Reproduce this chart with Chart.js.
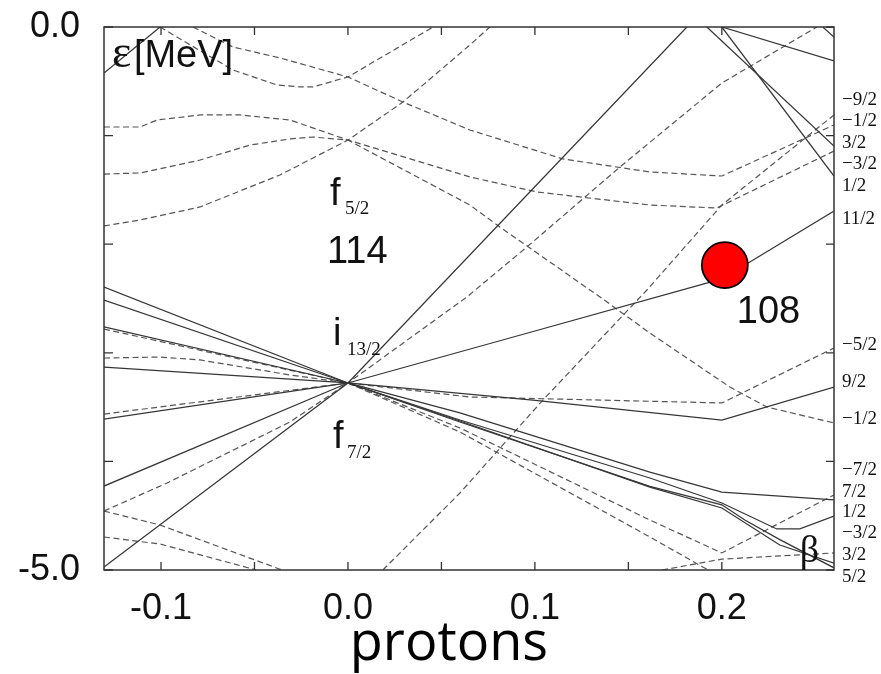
<!DOCTYPE html>
<html>
<head>
<meta charset="utf-8">
<script src="https://cdn.jsdelivr.net/npm/chart.js@4.4.1/dist/chart.umd.min.js"></script>
<style>
  html, body { margin: 0; padding: 0; background: #fff; }
  #box { width: 881px; height: 674px; }
</style>
</head>
<body>
<div id="box"><canvas id="nilsson"></canvas></div>
<script>
// Axis ticks (beta on x, energy in MeV on y)
const xTicks = [-0.1, -0.05, 0, 0.05, 0.1, 0.15, 0.2];
const xTickLabels = ['-0.1', '', '0.0', '', '0.1', '', '0.2'];
const yTicks = [-5, -4, -3, -2, -1, 0];
const yTickLabels = ['-5.0', '', '', '', '', '0.0'];

// Omega labels on the right edge and the energy where each one sits
const omegaLabels = ['\u22129/2', '\u22121/2', '3/2', '\u22123/2', '1/2', '11/2',
                     '\u22125/2', '9/2', '\u22121/2', '\u22127/2', '7/2', '1/2', '\u22123/2', '3/2', '5/2'];
const omegaEnergy = [-0.672, -0.866, -1.068, -1.262, -1.464, -1.768,
                     -2.928, -3.269, -3.610, -4.079, -4.282, -4.466, -4.659, -4.862, -5.064];

// Marked level (108) : [beta, energy]
const marker108 = [0.2016, -2.192];

// Positive parity levels (solid), each a list of [beta, energy]
const i13a = [[-0.1305, -4.972], [0, -3.278], [0.1813, 0]];
const i13b = [[-0.1305, -4.227], [0, -3.278], [0.0957, -2.820], [0.2, -2.320], [0.26, -1.694]];
const i13c = [[-0.1305, -3.610], [0, -3.278], [0.0989, -3.435], [0.2, -3.619], [0.26, -3.315]];
const i13d = [[-0.1305, -3.131], [0, -3.278], [0.0599, -3.554], [0.1615, -4.098], [0.2, -4.282], [0.26, -4.355]];
const i13e = [[-0.1305, -2.762], [0, -3.278], [0.0599, -3.619], [0.1615, -4.153], [0.2, -4.383], [0.2294, -4.622], [0.2417, -4.622], [0.26, -4.503]];
const i13f = [[-0.1305, -2.514], [0, -3.278], [0.0599, -3.628], [0.1615, -4.236], [0.2, -4.429], [0.231, -4.770], [0.26, -4.936]];
const i13g = [[-0.1305, -2.394], [0, -3.278], [0.0599, -3.637], [0.1615, -4.230], [0.2, -4.400], [0.2123, -4.540], [0.231, -4.720], [0.26, -4.980]];
const upperA = [[-0.1305, -0.424], [-0.1005, 0]];
const upperB = [[0.2, 0], [0.26, -0.313]];
const upperC = [[0.2, 0], [0.26, -1.372]];
const upperD = [[0.192, 0], [0.26, -1.096]];
const upperE = [[0.254, 0], [0.26, -0.092]];

// Negative parity levels (dashed)
const f7a = [[-0.1305, -2.781], [0, -3.278], [0.0636, -2.486], [0.0957, -2.026], [0.1455, -1.289], [0.2, -0.516], [0.2508, 0]];
const f7b = [[-0.1305, -3.048], [-0.1005, -3.039], [-0.0791, -3.066], [-0.031, -3.204], [0, -3.278], [0.0652, -3.407], [0.2, -3.462], [0.26, -2.956]];
const f7c = [[-0.1305, -3.564], [0, -3.278], [0.0599, -3.692], [0.1615, -4.540], [0.2, -4.843], [0.26, -4.309]];
const f7d = [[-0.1305, -4.457], [-0.0968, -4.199], [-0.031, -3.637], [0, -3.278], [0.0599, -3.729], [0.1615, -4.696], [0.1898, -4.972], [0.193, -5.0]];
const lowA = [[0.168, -5.0], [0.2, -4.90], [0.26, -4.843]];
const lowB = [[0.0187, -5.0], [0.0599, -4.291], [0.1043, -3.435], [0.1599, -2.422], [0.2, -1.639], [0.26, -0.810]];
const f5a = [[-0.1305, -0.921], [-0.1112, -0.921], [-0.1021, -0.856], [-0.0791, -0.810], [-0.0578, -0.810], [-0.031, -0.856], [0, -1.041],
             [0.0652, -1.381], [0.1011, -1.519], [0.1615, -1.639], [0.1973, -1.667], [0.26, -1.142]];
const f5b = [[-0.1305, -1.354], [-0.1112, -1.344], [-0.0791, -1.225], [-0.0524, -1.087], [-0.031, -1.031], [-0.0187, -1.013], [0, -1.041],
             [0.0652, -1.639], [0.0813, -1.842], [0.1348, -2.486], [0.1615, -2.818], [0.2043, -3.315], [0.2241, -3.499], [0.26, -3.646]];
const f5c = [[-0.1305, -1.832], [-0.1112, -1.777], [-0.0791, -1.657], [-0.0524, -1.473], [-0.0364, -1.363], [0, -1.041],
             [0.0294, -0.691], [0.0652, -0.166], [0.0759, 0]];
const p3a = [[-0.0829, 0], [-0.0615, -0.184], [-0.0364, -0.285], [0, -0.460], [0.0294, -0.691], [0.0652, -0.948], [0.115, -1.215],
             [0.1615, -1.335], [0.2, -1.372], [0.26, -0.902]];
const p3b = [[-0.1005, 0], [-0.0861, -0.147], [-0.0615, -0.396], [-0.038, -0.534], [-0.0257, -0.552], [-0.0187, -0.552], [0, -0.460], [0.0455, 0]];
const lowC = [[-0.1305, -4.457], [-0.1005, -4.586], [-0.0352, -5.0]];
const lowD = [[-0.1305, -4.696], [-0.1005, -4.761], [-0.049, -5.0]];

const solidLevels = [i13a, i13b, i13c, i13d, i13e, i13f, i13g, upperA, upperB, upperC, upperD, upperE];
const dashedLevels = [f7a, f7b, f7c, f7d, lowA, lowB, f5a, f5b, f5c, p3a, p3b, lowC, lowD];

const SANS = "'Liberation Sans', Arial, sans-serif";
const SERIF = "'Liberation Serif', 'Times New Roman', serif";

const toXY = pts => pts.map(p => ({ x: p[0], y: p[1] }));

const datasets = [{
    data: [{ x: marker108[0], y: marker108[1] }],
    showLine: false,
    pointRadius: 23,
    pointBackgroundColor: '#ff0000',
    pointBorderColor: '#000000',
    pointBorderWidth: 1.8,
    order: -1
}];
solidLevels.forEach(pts => datasets.push({
    data: toXY(pts), showLine: true, borderColor: '#363636', borderWidth: 1.25, pointRadius: 0, tension: 0
}));
dashedLevels.forEach(pts => datasets.push({
    data: toXY(pts), showLine: true, borderColor: '#555555', borderWidth: 1.2, borderDash: [6, 3.5], pointRadius: 0, tension: 0
}));

// Frame and inward tick marks
const frame = {
    id: 'frame',
    afterDatasetsDraw(chart) {
        const { ctx, chartArea: a, scales: { x, y } } = chart;
        ctx.save();
        ctx.strokeStyle = '#333';
        ctx.lineWidth = 1.5;
        ctx.strokeRect(a.left, a.top, a.right - a.left, a.bottom - a.top);
        ctx.lineWidth = 1.3;
        ctx.beginPath();
        xTicks.forEach(v => {
            const px = x.getPixelForValue(v);
            ctx.moveTo(px, a.bottom); ctx.lineTo(px, a.bottom - 8);
            ctx.moveTo(px, a.top); ctx.lineTo(px, a.top + 8);
        });
        yTicks.forEach(v => {
            const py = y.getPixelForValue(v);
            ctx.moveTo(a.left, py); ctx.lineTo(a.left + 9, py);
            ctx.moveTo(a.right, py); ctx.lineTo(a.right - 8, py);
        });
        ctx.stroke();
        ctx.restore();
    }
};

// Labels written on the plot
const notes = [
    { text: '\u03b5', at: [-0.1262, -0.368], font: '46px ' + SERIF },
    { text: '[MeV]', at: [-0.1145, -0.368], font: '38px ' + SANS },
    { text: 'f', at: [-0.0096, -1.639], font: '38px ' + SANS },
    { text: '5/2', at: [-0.0016, -1.722], font: '19px ' + SERIF },
    { text: '114', at: [-0.0112, -2.173], font: '38px ' + SANS },
    { text: 'i', at: [-0.008, -2.928], font: '38px ' + SANS },
    { text: '13/2', at: [-0.0005, -3.020], font: '19px ' + SERIF },
    { text: 'f', at: [-0.008, -3.877], font: '38px ' + SANS },
    { text: '7/2', at: [-0.0005, -3.969], font: '19px ' + SERIF },
    { text: '108', at: [0.208, -2.726], font: '38px ' + SANS },
    { text: '\u03b2', at: [0.2417, -4.926], font: '38px ' + SERIF }
];

const labels = {
    id: 'labels',
    afterDraw(chart) {
        const { ctx, chartArea: a, scales: { x, y } } = chart;
        ctx.save();
        ctx.fillStyle = '#111';
        ctx.textAlign = 'left';
        ctx.textBaseline = 'alphabetic';
        notes.forEach(n => {
            ctx.font = n.font;
            ctx.fillText(n.text, x.getPixelForValue(n.at[0]), y.getPixelForValue(n.at[1]));
        });
        ctx.font = '19px ' + SERIF;
        ctx.textBaseline = 'middle';
        omegaLabels.forEach((t, i) => ctx.fillText(t, a.right + 8, y.getPixelForValue(omegaEnergy[i])));
        // axis name under the beta ticks
        ctx.font = "54px 'Open Sans', " + SANS;
        ctx.textAlign = 'center';
        ctx.textBaseline = 'alphabetic';
        ctx.fillStyle = '#000';
        ctx.fillText('protons', x.getPixelForValue(0.054), a.bottom + 90);
        ctx.restore();
    }
};

const chart = new Chart(document.getElementById('nilsson').getContext('2d'), {
    type: 'scatter',
    data: { datasets: datasets },
    options: {
        responsive: true,
        maintainAspectRatio: false,
        animation: false,
        layout: { padding: { left: 0, top: 27, right: 47, bottom: 0 } },
        plugins: { legend: { display: false }, tooltip: { enabled: false } },
        scales: {
            x: {
                type: 'linear',
                min: -0.1305,
                max: 0.26,
                grid: { display: false, drawTicks: false },
                border: { display: false },
                afterBuildTicks: s => { s.ticks = xTicks.map(v => ({ value: v })); },
                afterFit: s => { s.height = 104; s.paddingLeft = 0; s.paddingRight = 0; },
                ticks: {
                    autoSkip: false,
                    maxRotation: 0,
                    padding: 17,
                    color: '#111',
                    font: { family: SANS, size: 36 },
                    callback: (v, i) => xTickLabels[i]
                }
            },
            y: {
                type: 'linear',
                min: -5,
                max: 0,
                grid: { display: false, drawTicks: false },
                border: { display: false },
                afterBuildTicks: s => { s.ticks = yTicks.map(v => ({ value: v })); },
                afterFit: s => { s.width = 104; s.paddingTop = 0; s.paddingBottom = 0; },
                ticks: {
                    padding: 24,
                    color: '#111',
                    font: { family: SANS, size: 36 },
                    callback: (v, i) => yTickLabels[i]
                }
            }
        }
    },
    plugins: [frame, labels]
});
</script>
</body>
</html>
